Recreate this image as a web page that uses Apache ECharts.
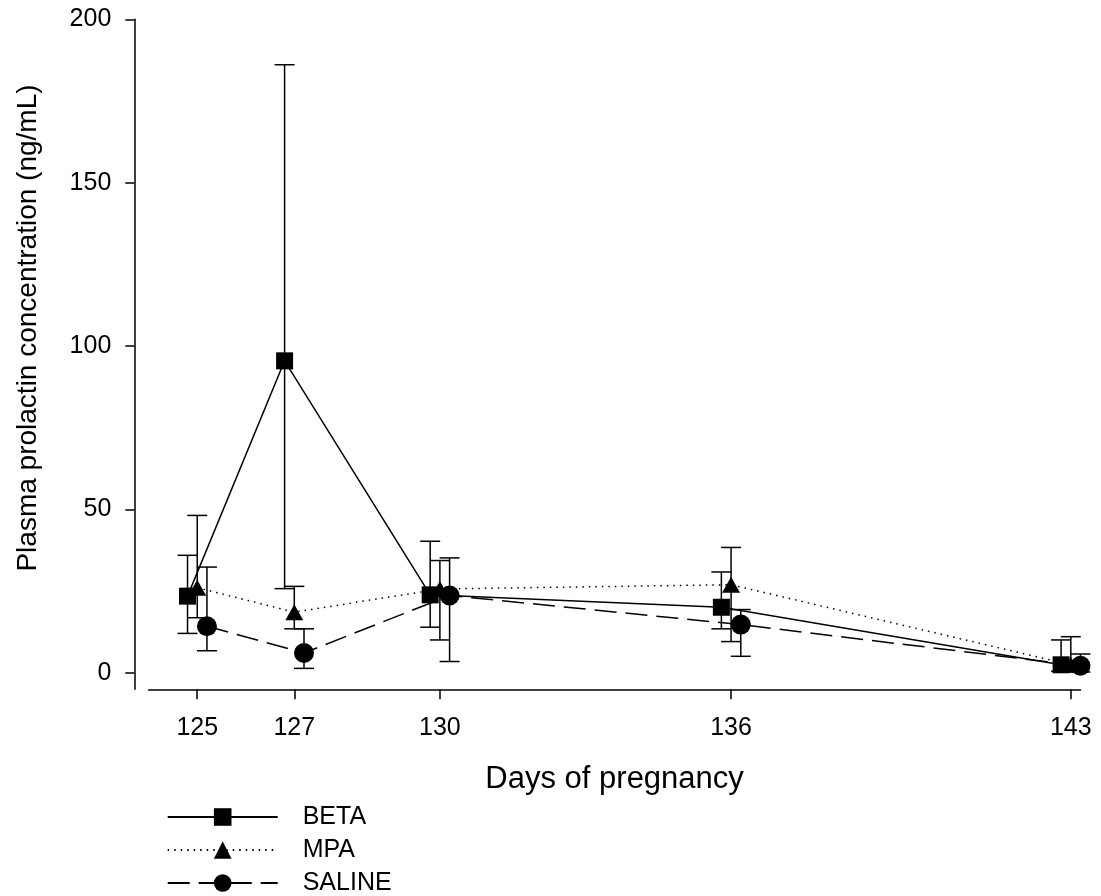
<!DOCTYPE html>
<html><head><meta charset="utf-8">
<script src="https://cdn.jsdelivr.net/npm/echarts@6/dist/echarts.min.js"></script>
<style>html,body{margin:0;padding:0;background:#fff}#c{width:1101px;height:896px}</style>
</head><body><div id="c"></div>
<script>
const days = [125, 127, 130, 136, 143];
const yTicks = [0, 50, 100, 150, 200];
const betaMean = [23.5, 95.5, 23.9, 20.1, 2.5];
const betaLow = [12.1, 25.8, 14.0, 13.5, 0.5];
const betaHigh = [36.0, 186.1, 40.3, 30.9, 10.1];
const mpaMean = [26.1, 18.6, 25.7, 27.0, 2.5];
const mpaLow = [16.9, 13.5, 10.1, 9.6, 0.5];
const mpaHigh = [48.2, 26.5, 34.4, 38.4, 11.1];
const salineMean = [14.3, 6.1, 23.7, 14.8, 2.2];
const salineLow = [6.8, 1.4, 3.5, 5.1, 0.3];
const salineHigh = [32.4, 13.5, 35.2, 19.4, 5.8];

const FONT = '"Liberation Sans", Arial, sans-serif';
const OFF = 0.2;
const lineData = (off, m) => days.map((d, i) => [d + off, m[i]]);
const errData = (off, lo, hi) => days.map((d, i) => [d + off, lo[i], hi[i]]);
function errSeries(name, data) {
  return {
    type: 'custom', name: name, silent: true, z: 1, data: data,
    encode: { x: 0, y: [1, 2] },
    renderItem: function (p, api) {
      const x = api.value(0);
      const t = api.coord([x, api.value(2)]);
      const b = api.coord([x, api.value(1)]);
      const hw = 10;
      const st = { stroke: '#000', lineWidth: 1.5 };
      return { type: 'group', children: [
        { type: 'line', shape: { x1: t[0], y1: t[1], x2: b[0], y2: b[1] }, style: st },
        { type: 'line', shape: { x1: t[0] - hw, y1: t[1], x2: t[0] + hw, y2: t[1] }, style: st },
        { type: 'line', shape: { x1: b[0] - hw, y1: b[1], x2: b[0] + hw, y2: b[1] }, style: st }
      ] };
    }
  };
}
function lineSeries(name, data, symbol, size, type) {
  return {
    type: 'line', name: name, data: data, z: 3,
    symbol: symbol, symbolSize: size, showAllSymbol: true,
    itemStyle: { color: '#000' },
    lineStyle: { color: '#000', width: 1.5, type: type }
  };
}

const chart = echarts.init(document.getElementById('c'));
chart.setOption({
  animation: false,
  backgroundColor: '#fff',
  grid: { left: 148.7, right: 20.5, top: 19.3, bottom: 206.7 },
  xAxis: {
    type: 'value', min: 124, max: 143.2,
    name: 'Days of pregnancy', nameLocation: 'middle', nameGap: 75,
    nameTextStyle: { fontSize: 31, color: '#000', fontFamily: FONT },
    axisLine: { onZero: false, lineStyle: { color: '#000', width: 1.5 } },
    axisTick: { customValues: days, length: 10, lineStyle: { color: '#000', width: 1.5 } },
    axisLabel: { customValues: days, fontSize: 25, margin: 26, color: '#000', fontFamily: FONT },
    splitLine: { show: false }
  },
  yAxis: {
    type: 'value', min: -5, max: 200, offset: 14.4,
    axisLine: { show: true, lineStyle: { color: '#000', width: 1.5 } },
    axisTick: { show: true, customValues: yTicks, length: 9, lineStyle: { color: '#000', width: 1.5 } },
    axisLabel: { customValues: yTicks, fontSize: 25, margin: 23, color: '#000', fontFamily: FONT },
    splitLine: { show: false }
  },
  legend: {
    orient: 'vertical', left: 166.7, top: 804.5, padding: 0,
    itemWidth: 110, itemHeight: 22, itemGap: 8,
    data: ['BETA', 'MPA', 'SALINE'],
    textStyle: { fontSize: 25, lineHeight: 25, color: '#000', fontFamily: FONT, padding: [0, 0, 0, 20] }
  },
  graphic: [{
    type: 'text', x: 28, y: 328, rotation: Math.PI / 2,
    style: { text: 'Plasma prolactin concentration (ng/mL)', fontSize: 28, fontFamily: FONT, fill: '#000', align: 'center', verticalAlign: 'middle' }
  }],
  series: [
    errSeries('BETA err', errData(-OFF, betaLow, betaHigh)),
    errSeries('MPA err', errData(0, mpaLow, mpaHigh)),
    errSeries('SALINE err', errData(OFF, salineLow, salineHigh)),
    lineSeries('BETA', lineData(-OFF, betaMean), 'rect', 17, 'solid'),
    lineSeries('MPA', lineData(0, mpaMean), 'triangle', [18, 16], [1.5, 5]),
    lineSeries('SALINE', lineData(OFF, salineMean), 'circle', 20, [22, 9])
  ]
});
</script>
</body></html>
